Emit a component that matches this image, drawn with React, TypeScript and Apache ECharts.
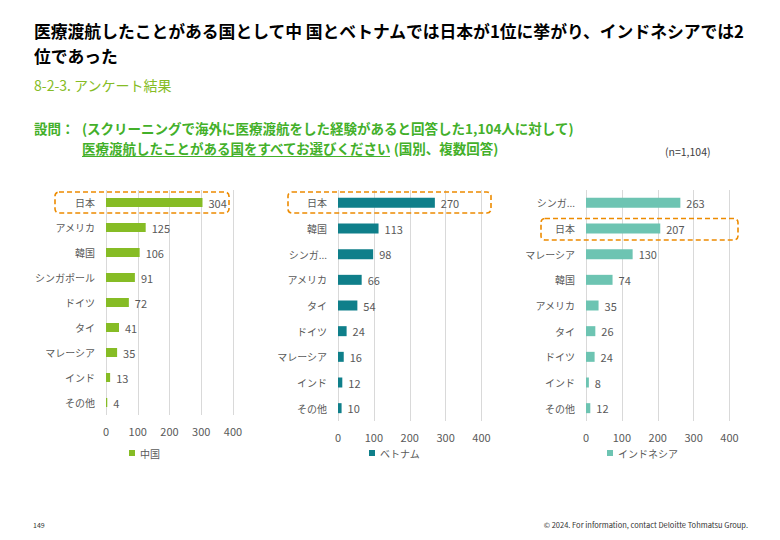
import React, { useEffect, useRef } from "react";
import * as echarts from "echarts";

const chinaCats = ["日本", "アメリカ", "韓国", "シンガポール", "ドイツ", "タイ", "マレーシア", "インド", "その他"];
const chinaVals = [304, 125, 106, 91, 72, 41, 35, 13, 4];
const vietnamCats = ["日本", "韓国", "シンガポール", "アメリカ", "タイ", "ドイツ", "マレーシア", "インド", "その他"];
const vietnamVals = [270, 113, 98, 66, 54, 24, 16, 12, 10];
const indoCats = ["シンガポール", "日本", "マレーシア", "韓国", "アメリカ", "タイ", "ドイツ", "インド", "その他"];
const indoVals = [263, 207, 130, 74, 35, 26, 24, 8, 12];
const seriesNames = ["中国", "ベトナム", "インドネシア"];
const seriesColors = ["#86BC25", "#0F7F8A", "#6DC4B2"];
const xMin = 0;
const xMax = 400;
const xInterval = 100;

const titleLine1 = "医療渡航したことがある国として中 国とベトナムでは日本が1位に挙がり、インドネシアでは2";
const titleLine2 = "位であった";
const subTitle = "8-2-3. アンケート結果";
const qLabel = "設問：";
const qLine1 = "(スクリーニングで海外に医療渡航をした経験があると回答した1,104人に対して)";
const qLine2a = "医療渡航したことがある国をすべてお選びください";
const qLine2b = "(国別、複数回答)";
const nNote = "(n=1,104)";
const pageNo = "149";
const copyright = "© 2024. For information, contact Deloitte Tohmatsu Group.";

const FONT = "'Noto Sans CJK JP', 'Noto Sans', sans-serif";
const GRAY = "#595959";
const QGREEN = "#43B02A";

export default function App() {
  const ref = useRef<HTMLDivElement>(null);
  useEffect(() => {
    if (!ref.current) return;
    const chart = echarts.init(ref.current, undefined, { renderer: "svg" });
    const cats = [chinaCats, vietnamCats, indoCats];
    const vals = [chinaVals, vietnamVals, indoVals];
    const grids = [
      { left: 106, top: 190, width: 127, height: 225 },
      { left: 338, top: 190, width: 143.5, height: 231 },
      { left: 586, top: 190, width: 143.5, height: 231 },
    ];
    const barWidths = [9, 10, 10];
    const legendLefts = [129, 369, 607];
    const shorten = [false, true, true];

    const option: any = {
      animation: false,
      backgroundColor: "#ffffff",
      textStyle: { fontFamily: FONT },
      grid: grids,
      xAxis: grids.map((_, i) => ({
        type: "value",
        gridIndex: i,
        min: xMin,
        max: xMax,
        interval: xInterval,
        axisLine: { show: false },
        axisTick: { show: false },
        splitLine: { show: true, lineStyle: { color: "#d9d9d9", width: 1 } },
        axisLabel: { color: GRAY, fontSize: 11, margin: 10, fontFamily: FONT },
      })),
      yAxis: grids.map((_, i) => ({
        type: "category",
        gridIndex: i,
        inverse: true,
        data: cats[i],
        axisLine: { show: false },
        axisTick: { show: false },
        axisLabel: {
          color: GRAY,
          fontSize: 10,
          margin: 11,
          fontFamily: FONT,
          formatter: (v: string) => (shorten[i] && v.length > 5 ? v.slice(0, 3) + "..." : v),
        },
      })),
      legend: seriesNames.map((n, i) => ({
        data: [n],
        left: legendLefts[i],
        top: 448,
        padding: 0,
        icon: "rect",
        itemWidth: 6,
        itemHeight: 6,
        itemGap: 4,
        textStyle: { color: GRAY, fontSize: 10, fontFamily: FONT },
      })),
      series: seriesNames.map((n, i) => ({
        name: n,
        type: "bar",
        xAxisIndex: i,
        yAxisIndex: i,
        data: vals[i],
        barWidth: barWidths[i],
        itemStyle: { color: seriesColors[i] },
        label: {
          show: true,
          position: "right",
          distance: 6,
          color: GRAY,
          fontSize: 11,
          fontFamily: FONT,
        },
      })),
      graphic: [
        {
          type: "text",
          left: 34,
          top: 18,
          style: {
            text: titleLine1 + "\n" + titleLine2,
            fill: "#000",
            fontSize: 16.8,
            lineHeight: 25,
            fontWeight: "bold",
            fontFamily: FONT,
          },
        },
        {
          type: "text",
          left: 34,
          top: 78,
          style: { text: subTitle, fill: "#86BC25", fontSize: 14, fontFamily: FONT },
        },
        {
          type: "text",
          left: 34,
          top: 118.5,
          style: { text: qLabel, fill: QGREEN, fontSize: 13.5, lineHeight: 19.5, fontWeight: "bold", fontFamily: FONT },
        },
        {
          type: "text",
          left: 82,
          top: 118.5,
          style: {
            text: qLine1 + "\n" + qLine2a + " " + qLine2b,
            fill: QGREEN,
            fontSize: 13.5,
            lineHeight: 19.5,
            fontWeight: "bold",
            fontFamily: FONT,
          },
        },
        {
          type: "line",
          shape: { x1: 82, y1: 156.5, x2: 390, y2: 156.5 },
          style: { stroke: QGREEN, lineWidth: 1 },
        },
        {
          type: "text",
          left: 665,
          top: 146,
          style: { text: nNote, fill: "#404040", fontSize: 10.5, fontFamily: FONT },
        },
        {
          type: "rect",
          shape: { x: 55, y: 192, width: 174, height: 21, r: 4 },
          style: { fill: "none", stroke: "#ED8B00", lineWidth: 1.6, lineDash: [5, 3] },
          z: 10,
        },
        {
          type: "rect",
          shape: { x: 288, y: 192, width: 203, height: 21, r: 4 },
          style: { fill: "none", stroke: "#ED8B00", lineWidth: 1.6, lineDash: [5, 3] },
          z: 10,
        },
        {
          type: "rect",
          shape: { x: 541, y: 218.5, width: 197, height: 21.5, r: 4 },
          style: { fill: "none", stroke: "#ED8B00", lineWidth: 1.6, lineDash: [5, 3] },
          z: 10,
        },
        {
          type: "text",
          left: 33,
          top: 521,
          style: { text: pageNo, fill: "#333", fontSize: 7, fontFamily: FONT },
        },
        {
          type: "text",
          right: 32,
          top: 521,
          style: { text: copyright, fill: "#333", fontSize: 7.5, fontFamily: FONT },
        },
      ],
    };
    chart.setOption(option);
    return () => chart.dispose();
  }, []);
  return (
    <div
      ref={ref}
      style={{ position: "fixed", left: 0, top: 0, width: 780, height: 540, background: "#fff" }}
    />
  );
}
